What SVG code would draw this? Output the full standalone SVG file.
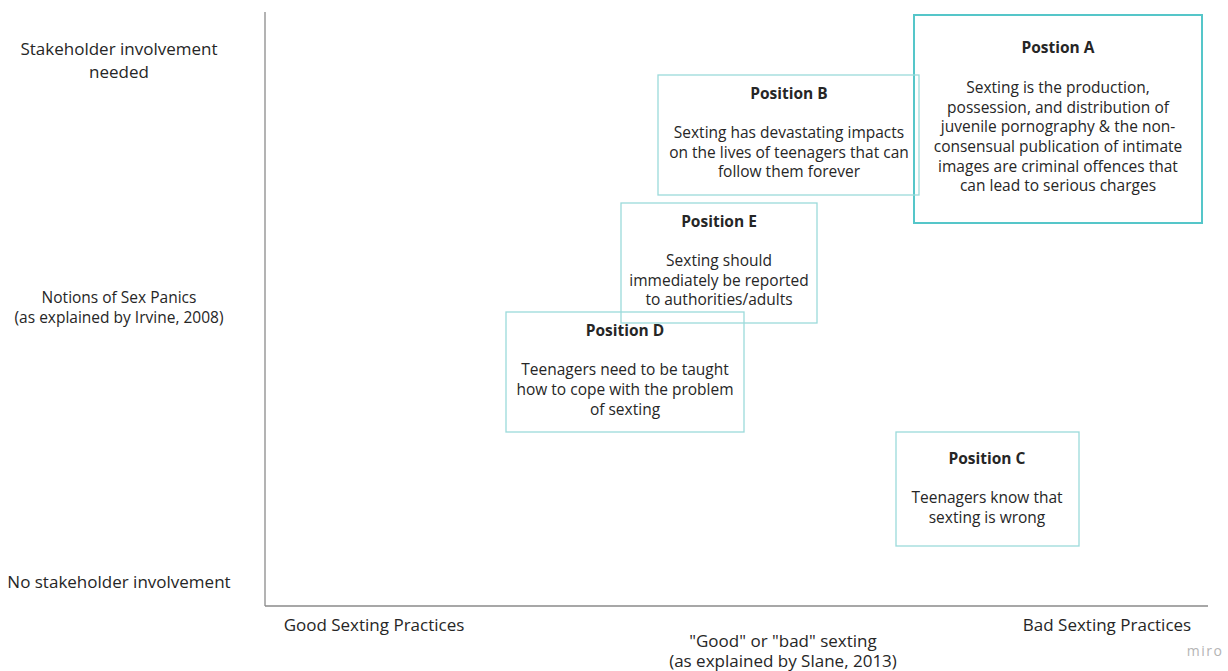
<svg xmlns="http://www.w3.org/2000/svg" width="1228" height="671" viewBox="0 0 1228 671">
<style>
text{font-family:"Open Sans","Noto Sans","Liberation Sans",sans-serif;fill:#262626;text-anchor:middle}
.lab{font-size:17px}
.lab2{font-size:15.5px}
.bx{font-size:15.5px}
.tt{font-size:15.5px;font-weight:bold}
.box{fill:none;stroke:#9bdadb;stroke-width:1.3}
.boxa{fill:none;stroke:#55c6c9;stroke-width:2}
.axis{stroke:#8a8a8a;stroke-width:1.3;fill:none}
</style>
<rect width="1228" height="671" fill="#ffffff"/>
<g id="axes">
<line class="axis" x1="265" y1="12" x2="265" y2="606"/>
<line class="axis" x1="265" y1="606" x2="1208" y2="606"/>
</g>
<g id="axis-labels">
<text class="lab" x="119" y="55">Stakeholder involvement</text>
<text class="lab" x="119" y="78">needed</text>
<text class="lab2" x="119" y="303">Notions of Sex Panics</text>
<text class="lab2" x="119" y="323">(as explained by Irvine, 2008)</text>
<text class="lab" x="119" y="588">No stakeholder involvement</text>
<text class="lab" x="374" y="631">Good Sexting Practices</text>
<text class="lab" x="1107" y="631">Bad Sexting Practices</text>
<text class="lab" x="783" y="647">"Good" or "bad" sexting</text>
<text class="lab" x="783" y="667">(as explained by Slane, 2013)</text>
<text x="1205" y="656" style="font-size:14px;fill:#b5b5b5;letter-spacing:1.5px">miro</text>
</g>
<g id="position-a">
<rect class="boxa" x="914" y="15" width="288" height="208"/>
<text class="tt" x="1058" y="53">Postion A</text>
<text class="bx" x="1058" y="93">Sexting is the production,</text>
<text class="bx" x="1058" y="113">possession, and distribution of</text>
<text class="bx" x="1058" y="132">juvenile pornography &amp; the non-</text>
<text class="bx" x="1058" y="152">consensual publication of intimate</text>
<text class="bx" x="1058" y="172">images are criminal offences that</text>
<text class="bx" x="1058" y="191">can lead to serious charges</text>
</g>
<g id="position-b">
<rect class="box" x="658" y="75" width="261" height="120"/>
<text class="tt" x="789" y="99">Position B</text>
<text class="bx" x="789" y="138">Sexting has devastating impacts</text>
<text class="bx" x="789" y="158">on the lives of teenagers that can</text>
<text class="bx" x="789" y="177">follow them forever</text>
</g>
<g id="position-e">
<rect class="box" x="621" y="203" width="196" height="120"/>
<text class="tt" x="719" y="227">Position E</text>
<text class="bx" x="719" y="266">Sexting should</text>
<text class="bx" x="719" y="286">immediately be reported</text>
<text class="bx" x="719" y="305">to authorities/adults</text>
</g>
<g id="position-d">
<rect class="box" x="506" y="312" width="238" height="120"/>
<text class="tt" x="625" y="336">Position D</text>
<text class="bx" x="625" y="375">Teenagers need to be taught</text>
<text class="bx" x="625" y="395">how to cope with the problem</text>
<text class="bx" x="625" y="415">of sexting</text>
</g>
<g id="position-c">
<rect class="box" x="896" y="432" width="183" height="114"/>
<text class="tt" x="987" y="464">Position C</text>
<text class="bx" x="987" y="503">Teenagers know that</text>
<text class="bx" x="987" y="523">sexting is wrong</text>
</g>
<g id="connectors"></g>
</svg>
